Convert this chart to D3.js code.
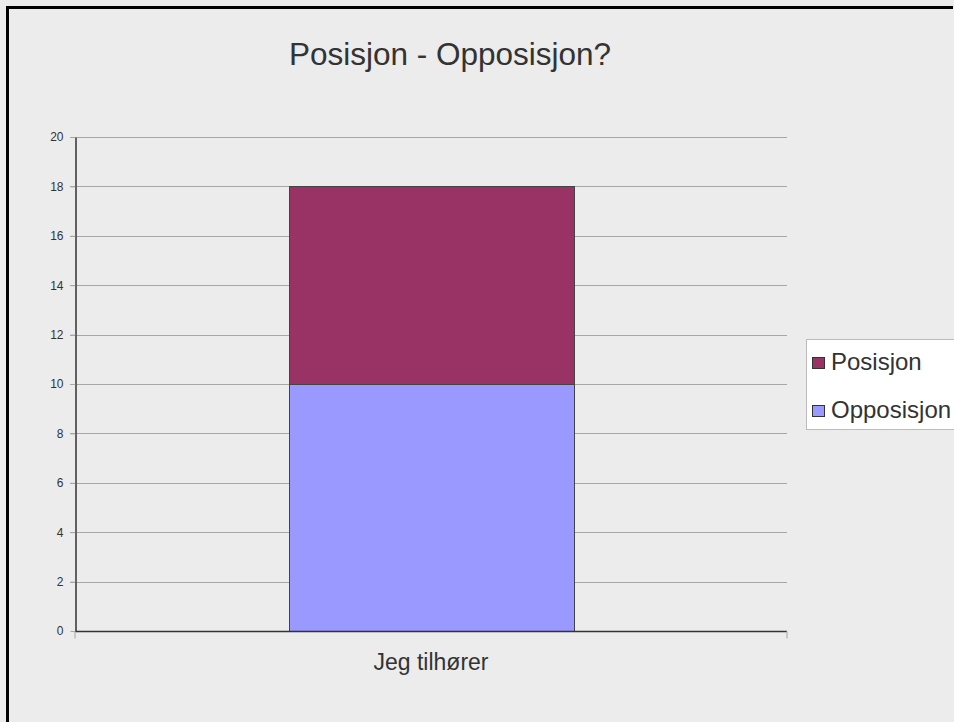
<!DOCTYPE html>
<html>
<head>
<meta charset="utf-8">
<script src="https://cdn.jsdelivr.net/npm/d3@7"></script>
<style>
  html, body { margin: 0; padding: 0; background: #ececec; overflow: hidden; }
  svg { display: block; }
  text { font-family: "Liberation Sans", Arial, sans-serif; fill: #333; }
</style>
</head>
<body>
<svg id="chart" width="954" height="722"></svg>
<script>
const categories = ["Jeg tilhører"];
const seriesNames = ["Opposisjon", "Posisjon"];
const opposisjon = [10];
const posisjon = [8];
const yTicks = [0, 2, 4, 6, 8, 10, 12, 14, 16, 18, 20];
const colors = { "Opposisjon": "#9999ff", "Posisjon": "#993366" };

const svg = d3.select("#chart");
const W = 954, H = 722;

// background and frame (top and left edges)
svg.append("rect").attr("width", W).attr("height", H).attr("fill", "#ececec");
svg.append("line").attr("x1", 7.5).attr("x2", 7.5).attr("y1", 6).attr("y2", H)
  .attr("stroke", "#000").attr("stroke-width", 3);
svg.append("line").attr("x1", 6).attr("x2", W - 1).attr("y1", 7.5).attr("y2", 7.5)
  .attr("stroke", "#000").attr("stroke-width", 3);

const m = { left: 75, right: 787, top: 137, bottom: 631 };

const x = d3.scaleBand().domain(categories).range([m.left, m.right]).padding(0);
const y = d3.scaleLinear().domain([0, 20]).range([m.bottom, m.top]);

// title
svg.append("text").attr("x", 450).attr("y", 65).attr("text-anchor", "middle")
  .style("font-size", "31.5px").text("Posisjon - Opposisjon?");

// gridlines
svg.append("g").selectAll("line").data(yTicks.filter(d => d > 0)).join("line")
  .attr("x1", m.left - 5).attr("x2", m.right)
  .attr("y1", d => Math.round(y(d)) + 0.5).attr("y2", d => Math.round(y(d)) + 0.5)
  .attr("stroke", "#a6a6a6").attr("stroke-width", 1);

// stacked bars
const rows = categories.map((c, i) => ({ cat: c, Opposisjon: opposisjon[i], Posisjon: posisjon[i] }));
const stacked = d3.stack().keys(seriesNames)(rows);
const bw = x.bandwidth() * 0.4;
svg.append("g").selectAll("g").data(stacked).join("g")
  .attr("fill", d => colors[d.key])
  .selectAll("rect").data(d => d).join("rect")
  .attr("x", d => Math.round(x(d.data.cat) + (x.bandwidth() - bw) / 2) + 0.5)
  .attr("width", Math.round(bw))
  .attr("y", d => Math.round(y(d[1])) + 0.5)
  .attr("height", d => Math.round(y(d[0])) - Math.round(y(d[1])))
  .attr("stroke", "#444").attr("stroke-width", 1);

// y axis
const yAxis = d3.axisLeft(y).tickValues(yTicks).tickSize(5).tickPadding(7).tickSizeOuter(0);
const gy = svg.append("g").attr("transform", `translate(${m.left + 0.5},0)`).call(yAxis);
gy.select(".domain").attr("stroke", "#333").attr("stroke-width", 1.5);
gy.selectAll(".tick line").attr("stroke", "#a6a6a6");
gy.selectAll("text").style("font-size", "12px").attr("fill", "#333");

// x axis
const gx = svg.append("g").attr("transform", `translate(0,${m.bottom + 0.5})`);
gx.append("line").attr("x1", m.left).attr("x2", m.right).attr("stroke", "#333").attr("stroke-width", 1.5);
gx.selectAll("line.edge").data([m.left, m.right]).join("line").attr("class", "edge")
  .attr("x1", d => d).attr("x2", d => d).attr("y1", 0).attr("y2", 7)
  .attr("stroke", "#bdbdbd").attr("stroke-width", 1.5);
gx.selectAll("text").data(categories).join("text")
  .attr("x", d => x(d) + x.bandwidth() / 2).attr("y", 38)
  .attr("text-anchor", "middle").style("font-size", "23px").text(d => d);

// legend
const lg = svg.append("g").attr("transform", "translate(806,339)");
lg.append("rect").attr("x", 0.5).attr("y", 0.5).attr("width", 160).attr("height", 90)
  .attr("fill", "#fff").attr("stroke", "#bbb");
const legendOrder = ["Posisjon", "Opposisjon"];
lg.selectAll("g.item").data(legendOrder).join("g").attr("class", "item")
  .attr("transform", (d, i) => `translate(0,${23 + i * 48})`)
  .each(function (d) {
    const g = d3.select(this);
    g.append("rect").attr("x", 6.5).attr("y", -4.5).attr("width", 12).attr("height", 11)
      .attr("fill", colors[d]).attr("stroke", "#333");
    g.append("text").attr("x", 25).attr("y", 8).style("font-size", "24px").text(d);
  });
</script>
</body>
</html>
